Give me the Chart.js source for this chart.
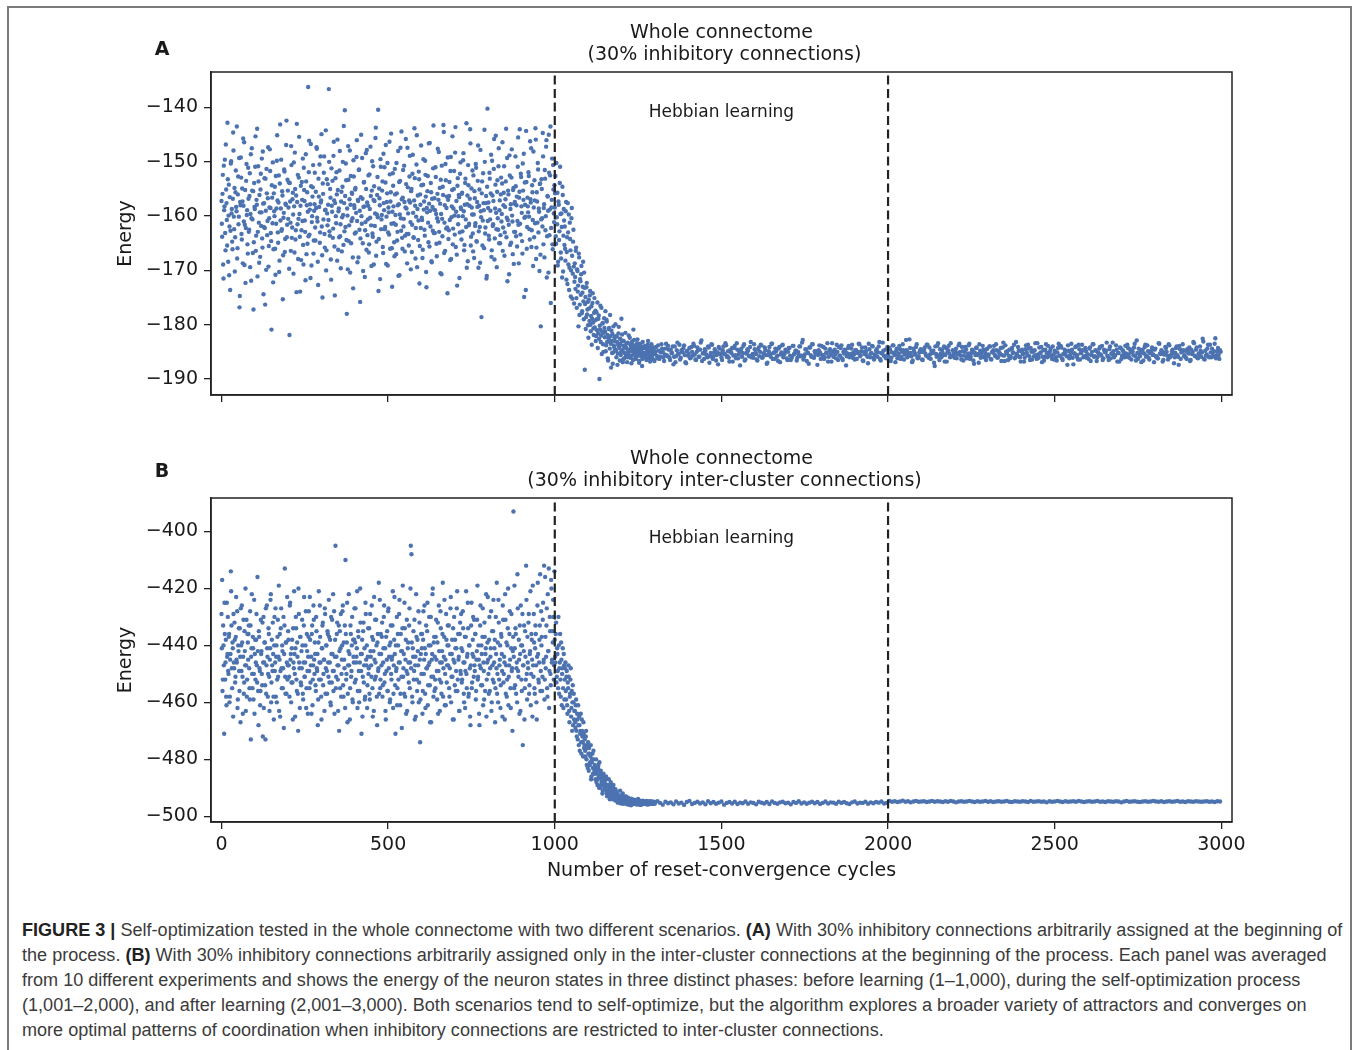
<!DOCTYPE html>
<html>
<head>
<meta charset="utf-8">
<title>Figure 3 – Self-optimization in the whole connectome</title>
<script src="https://cdn.jsdelivr.net/npm/chart.js@4.4.1/dist/chart.umd.min.js"></script>
<style>
  html, body { margin: 0; padding: 0; background: #fff; }
  body { width: 1357px; height: 1050px; position: relative; overflow: hidden; }
  .frame { position: absolute; left: 7px; top: 6px; width: 1341px; height: 1100px;
           border: 2px solid #7a7a7a; border-bottom: none; }
  .panel { position: absolute; left: 0; }
  #panelA { top: 0; }
  #panelB { top: 430px; }
  .caption { position: absolute; left: 22px; top: 918px; color: #3b3b3b;
             font-family: "Liberation Sans", Arial, sans-serif;
             font-size: 18px; line-height: 25px; white-space: nowrap;
             transform-origin: 0 0; }
  .caption b { color: #222; }
</style>
</head>
<body>
<div class="frame"></div>
<canvas id="panelA" class="panel" width="1357" height="420"></canvas>
<canvas id="panelB" class="panel" width="1357" height="456"></canvas>
<div class="caption" id="caption">
  <div id="captionFirst"><b>FIGURE 3 |</b> Self-optimization tested in the whole connectome with two different scenarios. <b>(A)</b> With 30% inhibitory connections arbitrarily assigned at the beginning of</div>
  <div>the process. <b>(B)</b> With 30% inhibitory connections arbitrarily assigned only in the inter-cluster connections at the beginning of the process. Each panel was averaged</div>
  <div>from 10 different experiments and shows the energy of the neuron states in three distinct phases: before learning (1–1,000), during the self-optimization process</div>
  <div>(1,001–2,000), and after learning (2,001–3,000). Both scenarios tend to self-optimize, but the algorithm explores a broader variety of attractors and converges on</div>
  <div>more optimal patterns of coordination when inhibitory connections are restricted to inter-cluster connections.</div>
</div>

<script>
/* ---------- DATA ---------- */
const xTicks = [0, 500, 1000, 1500, 2000, 2500, 3000];
const phaseBounds = [1000, 2000];
const phaseLabel = 'Hebbian learning';
const phaseLabelCycle = 1500;

const titleA = ['Whole connectome', ' (30% inhibitory connections)'];
const titleB = ['Whole connectome', ' (30% inhibitory inter-cluster connections)'];
const yTicksA = [-190, -180, -170, -160, -150, -140];
const yTicksB = [-500, -480, -460, -440, -420, -400];

// cycle sampling of each series: even and odd cycles kept in separate lists
const stepBefore = 2, stepLearning = 2, stepAfterA = 4, stepAfterB = 8;
const startBefore = 0, startLearning = 1000, startAfter = 1300;
const startBeforeOdd = 1, startLearningOdd = 1001, startAfterOddA = 1302;

// panel A energies, even cycles
const energyA_before = [
  -157.2,-163.8,-152.4,-171.5,-158.9,-149.6,-166.3,-155.1,-160.7,-142.8,-168.4,-154.2,-161.9,-173.6,-150.3,-159.5,-164.7,-156.8,-147.9,-162.4,
  -170.2,-155.6,-158.3,-143.5,-165.9,-152.7,-160.1,-176.8,-157.4,-149.2,-163.3,-154.9,-168.7,-158.1,-146.4,-161.6,-172.3,-153.5,-159.8,-165.2,
  -151.1,-162.9,-156.3,-169.4,-148.6,-160.4,-155.3,-166.8,-177.2,-153.9,-158.7,-145.3,-163.6,-157.9,-171.1,-150.8,-161.2,-156.1,-167.5,-152.2,
  -159.3,-164.1,-148.1,-174.4,-157.6,-162.2,-153.1,-169.9,-155.8,-160.9,-147.3,-165.5,-158.4,-151.7,-163.1,-180.9,-156.6,-150.1,-166.1,-159.1,
  -154.6,-170.8,-161.4,-149.8,-157.1,-164.9,-152.5,-168.2,-143.1,-158.6,-162.7,-155.4,-175.3,-160.3,-151.4,-166.6,-157.7,-146.9,-163.9,-153.3,
  -160.5,-153.8,-181.9,-157.3,-166.4,-150.6,-162.1,-155.7,-170.6,-158.2,-148.3,-164.3,-156.2,-143.0,-161.5,-167.9,-152.9,-159.6,-173.9,-154.4,
  -162.6,-157.0,-149.4,-168.9,-155.2,-160.8,-171.8,-153.6,-158.0,-165.1,-136.2,-151.9,-163.4,-157.8,-146.7,-169.1,-160.0,-154.7,-166.9,-159.0,
  -152.0,-164.5,-158.5,-147.6,-161.0,-172.7,-156.4,-150.5,-163.0,-157.5,-144.9,-167.2,-154.0,-160.6,-149.0,-165.8,-158.8,-170.0,-153.2,-161.7,
  -157.9,-136.6,-162.8,-155.0,-168.0,-151.2,-159.2,-164.0,-148.9,-157.1,-174.6,-153.0,-161.3,-156.0,-145.9,-166.2,-158.6,-151.6,-163.7,-169.6,
  -155.5,-160.2,-150.0,-165.3,-157.6,-140.5,-162.0,-153.4,-178.0,-159.9,-147.1,-164.6,-156.9,-170.4,-152.6,-160.9,-155.9,-167.6,-149.7,-158.0,
  -163.2,-154.8,-159.4,-146.0,-168.5,-157.2,-151.5,-162.5,-175.8,-156.5,-160.0,-149.3,-165.0,-158.3,-153.7,-171.2,-161.1,-155.0,-147.8,-163.5,
  -158.1,-166.7,-152.3,-160.3,-156.3,-169.2,-149.9,-163.8,-157.0,-154.5,-161.8,-145.6,-167.3,-159.7,-152.8,-140.4,-164.2,-156.7,-171.6,-150.9,
  -160.6,-155.3,-165.7,-148.5,-158.9,-162.4,-153.8,-168.8,-157.4,-150.2,-163.0,-159.3,-146.3,-166.0,-155.6,-161.4,-173.0,-152.1,-158.2,-164.8,
  -151.3,-159.8,-167.0,-155.8,-162.9,-148.0,-157.8,-170.9,-153.5,-160.4,-144.4,-164.0,-156.6,-161.9,-150.7,-166.5,-158.4,-154.1,-163.3,-147.4,
  -159.5,-165.4,-152.7,-157.5,-169.8,-155.0,-161.6,-148.7,-163.9,-157.1,-153.0,-167.8,-160.1,-145.1,-158.7,-164.4,-151.8,-172.4,-156.0,-162.2,
  -154.3,-160.7,-166.2,-149.5,-157.3,-163.6,-152.4,-170.3,-158.5,-155.4,-161.2,-146.6,-165.6,-159.0,-153.9,-168.3,-156.8,-162.7,-143.3,-158.8,
  -163.1,-151.0,-159.6,-167.4,-155.9,-161.0,-148.2,-164.9,-157.7,-153.3,-170.7,-160.5,-154.6,-143.2,-166.8,-158.0,-150.4,-162.3,-156.4,-174.2,
  -157.0,-162.6,-153.7,-168.1,-149.1,-160.2,-155.2,-165.2,-158.6,-151.7,-163.4,-143.6,-159.2,-167.1,-154.4,-161.5,-156.1,-171.4,-152.2,-158.4,
  -164.3,-155.7,-160.0,-148.4,-166.3,-157.9,-153.1,-162.0,-169.5,-156.2,-150.6,-161.7,-158.1,-144.0,-165.4,-154.9,-159.7,-163.2,-152.5,-167.7,
  -156.7,-161.3,-151.1,-164.7,-158.3,-147.0,-162.8,-155.1,-168.6,-159.1,-178.6,-153.6,-160.8,-157.6,-165.9,-150.0,-162.1,-156.3,-171.0,-140.2,
  -158.5,-163.6,-152.0,-160.6,-155.8,-167.5,-149.8,-161.8,-157.2,-145.8,-164.1,-154.2,-159.4,-169.4,-153.4,-162.5,-147.5,-158.9,-165.0,-156.0,
  -161.0,-154.0,-166.4,-158.0,-150.8,-163.0,-156.9,-143.9,-160.3,-172.0,-155.3,-161.6,-148.8,-165.3,-157.8,-152.9,-159.9,-167.0,-154.8,-162.9,
  -157.4,-149.0,-163.7,-156.4,-160.9,-145.5,-168.7,-155.5,-161.4,-152.2,-158.2,-164.6,-150.3,-157.0,-174.9,-153.8,-160.1,-144.3,-166.0,-156.6,
  -159.3,-152.6,-162.4,-146.2,-157.5,-165.7,-154.3,-160.7,-148.1,-163.9,-157.1,-143.8,-167.9,-155.6,-161.2,-151.4,-158.6,-170.1,-154.0,-180.3,
  -153.2,-160.4,-144.7,-165.2,-157.8,-151.5,-162.6,-147.2,-171.3,-156.3,-159.0,-145.0,-163.5,-152.5,-176.0,-158.4,-149.4,-166.1,-155.1,-161.1
];
const energyA_learning = [
  -158.4,-152.6,-165.1,-160.2,-155.7,-168.4,-157.9,-162.8,-150.9,-166.7,-159.5,-171.3,-156.1,-163.6,-160.8,
  -161.9,-168.2,-157.4,-166.6,-172.5,-163.0,-159.7,-169.5,-164.2,-174.8,-160.4,-167.3,-170.6,-162.5,-176.1,
  -168.7,-173.4,-165.8,-176.9,-170.1,-172.8,-166.9,-178.2,-171.6,-174.5,-169.2,-177.5,-173.0,-175.7,-170.4,
  -188.3,-174.9,-178.6,-172.3,-177.2,-180.1,-175.4,-179.3,-173.8,-181.2,-176.6,-178.9,-174.2,-180.7,-177.8,
  -180.5,-177.4,-182.1,-179.0,-175.9,-181.6,-178.3,-190.0,-180.9,-183.2,-176.9,-181.3,-179.7,-185.0,-178.8,
  -182.3,-177.5,-183.8,-179.4,-181.9,-186.6,-180.8,-182.9,-178.2,-183.5,-181.1,-185.2,-187.2,-180.3,-184.1,
  -183.0,-179.9,-184.8,-182.2,-187.4,-183.7,-180.4,-184.3,-182.6,-185.6,-178.9,-181.8,-186.9,-183.9,-186.2,
  -184.2,-181.5,-185.3,-183.4,-186.0,-184.7,-182.0,-185.8,-183.6,-184.4,-187.1,-183.1,-185.0,-180.9,-182.8,
  -185.4,-183.8,-186.3,-184.6,-182.7,-185.7,-184.1,-186.7,-183.5,-185.1,-184.8,-187.6,-183.2,-185.9,-184.3,
  -185.2,-183.9,-186.1,-184.5,-185.8,-183.0,-185.5,-184.2,-186.8,-184.9,-183.6,-185.6,-184.7,-186.4,-185.0
];
const energyA_after = [
  -185.3,-184.1,-186.2,-184.8,-185.9,-183.6,-185.0,-186.7,-184.4,-185.6,-183.9,-186.0,-184.6,-185.2,-187.3,-184.0,-185.8,-183.3,-185.4,-186.4,-184.7,-185.1,-183.8,-186.9,-184.9,
  -185.7,-184.3,-186.1,-185.0,-183.5,-185.5,-186.5,-184.2,-185.9,-184.6,-182.9,-185.3,-186.3,-184.8,-185.6,-184.0,-187.0,-185.2,-183.7,-185.8,-184.5,-186.6,-185.1,-184.1,-185.4,
  -186.0,-184.7,-185.3,-183.4,-185.9,-184.9,-186.8,-185.0,-184.3,-185.7,-183.9,-186.2,-184.6,-185.5,-187.5,-184.4,-185.2,-183.6,-186.4,-185.1,-184.8,-185.8,-183.2,-185.6,-186.1,
  -184.5,-185.4,-186.6,-184.2,-185.0,-183.8,-186.0,-185.3,-184.7,-187.2,-185.6,-184.1,-185.9,-183.5,-185.2,-186.3,-184.9,-185.7,-184.4,-186.9,-185.1,-183.7,-185.5,-184.6,-186.2,
  -185.0,-184.3,-186.5,-185.8,-183.9,-185.3,-184.8,-186.1,-185.5,-184.0,-185.7,-182.8,-185.9,-184.5,-186.7,-185.2,-184.2,-185.6,-183.6,-186.0,-184.9,-185.4,-187.4,-184.7,-185.1,
  -183.9,-185.6,-186.3,-184.4,-185.2,-186.8,-184.8,-185.5,-183.4,-185.9,-184.6,-186.2,-185.0,-184.1,-185.7,-183.8,-186.5,-185.3,-184.9,-185.8,-184.3,-186.0,-185.4,-183.7,-185.1,
  -186.4,-184.7,-185.2,-183.5,-185.8,-184.9,-186.6,-185.0,-184.2,-185.6,-187.1,-184.5,-185.3,-183.9,-186.1,-185.5,-184.8,-185.9,-184.0,-186.3,-185.2,-183.3,-185.7,-184.6,-186.0,
  -185.4,-184.3,-186.7,-185.1,-183.8,-185.6,-184.9,-186.2,-185.3,-184.5,-185.9,-183.6,-186.4,-185.0,-184.7,-185.7,-182.7,-185.2,-186.9,-184.4,-185.5,-184.1,-186.1,-185.8,-184.8,
  -185.0,-186.5,-184.6,-185.3,-183.7,-185.9,-184.2,-186.3,-185.1,-184.8,-187.6,-185.4,-183.9,-185.7,-184.5,-186.0,-185.2,-184.0,-185.6,-186.8,-184.7,-185.3,-183.4,-185.8,-184.9,
  -186.1,-184.4,-185.5,-183.8,-185.0,-186.4,-184.9,-185.7,-184.1,-186.2,-185.3,-183.5,-185.9,-184.6,-186.6,-185.1,-184.3,-185.6,-187.0,-184.8,-185.4,-183.9,-186.0,-185.2,-184.5,
  -185.8,-184.0,-186.3,-185.0,-184.7,-185.5,-183.6,-186.1,-184.9,-185.3,-186.7,-184.2,-185.7,-183.8,-185.2,-186.5,-184.6,-185.9,-184.3,-185.1,-186.2,-183.2,-185.6,-184.8,-186.0,
  -184.9,-185.4,-186.8,-184.5,-185.1,-183.7,-185.8,-184.3,-186.4,-185.0,-184.7,-185.6,-183.4,-186.1,-185.3,-184.1,-185.9,-186.6,-184.6,-185.2,-183.9,-185.7,-184.4,-186.3,-185.5,
  -184.8,-186.0,-185.1,-183.5,-185.7,-184.2,-186.5,-185.4,-184.9,-185.8,-183.8,-186.2,-185.0,-184.6,-187.3,-185.3,-184.0,-185.6,-183.7,-186.4,-185.2,-184.7,-185.9,-184.3,-186.1,
  -185.5,-184.4,-186.7,-185.0,-183.6,-185.8,-184.8,-186.0,-185.3,-184.1,-185.7,-186.5,-184.6,-185.1,-183.3,-185.9,-184.5,-186.2,-185.4,-184.9,-185.6,-183.8,-186.8,-185.2,-184.2,
  -186.3,-184.7,-185.4,-183.9,-185.9,-184.3,-186.1,-185.0,-184.8,-185.6,-183.5,-186.6,-185.2,-184.4,-185.8,-186.9,-184.6,-185.3,-183.7,-185.7,-184.9,-186.4,-185.1,-184.2,-185.5,
  -184.6,-185.9,-186.2,-183.4,-185.3,-184.7,-186.8,-185.5,-184.1,-185.0,-186.4,-183.8,-185.7,-184.9,-185.2,-186.0,-184.3,-185.6,-187.4,-184.5,-185.1,-183.6,-185.8,-184.8,-186.3,
  -185.0,-184.2,-186.5,-185.4,-183.2,-185.7,-184.6,-186.1,-185.3,-184.0,-185.9,-182.6,-186.3,-184.8,-185.5,-183.7,-186.0,-185.1,-184.4,-185.8,-183.5,-186.2,-184.9,-185.6,-184.7
];

// panel A energies, odd cycles
const energyA_beforeOdd = [
  -161.4,-155.9,-168.9,-150.7,-158.2,-163.1,-146.8,-157.6,-165.4,-153.2,-159.9,-170.9,-156.5,-162.7,-149.9,-158.7,-166.1,-144.6,-160.1,-154.8,
  -163.9,-151.6,-159.1,-167.8,-156.0,-161.5,-149.3,-174.7,-158.0,-152.9,-164.3,-157.3,-145.7,-161.0,-169.0,-155.2,-162.2,-150.4,-158.9,-166.9,
  -156.8,-162.5,-152.1,-159.6,-171.9,-147.5,-160.6,-155.4,-164.8,-158.3,-150.9,-166.4,-157.0,-143.9,-162.9,-153.6,-168.6,-159.3,-155.1,-161.8,
  -149.4,-165.8,-157.7,-162.0,-153.0,-176.3,-159.0,-151.3,-163.5,-156.7,-169.3,-160.4,-147.7,-158.5,-164.6,-154.3,-161.3,-172.2,-155.8,-160.0,
  -166.0,-152.6,-158.6,-145.1,-163.0,-157.5,-170.3,-154.0,-160.8,-149.6,-162.4,-156.2,-167.2,-159.4,-151.8,-164.2,-157.9,-142.4,-161.6,-155.3,
  -158.4,-169.7,-153.9,-161.2,-147.1,-164.0,-156.9,-159.7,-150.1,-166.7,-155.0,-162.6,-174.0,-157.4,-152.4,-160.5,-145.4,-163.8,-158.1,-168.1,
  -153.7,-160.9,-165.3,-151.1,-157.2,-162.9,-148.6,-167.0,-155.6,-159.2,-163.7,-146.1,-158.8,-171.4,-154.5,-161.1,-156.4,-150.6,-164.5,-157.8,
  -162.1,-155.5,-147.3,-160.3,-168.4,-153.1,-158.3,-164.9,-149.0,-157.1,-161.9,-175.0,-155.9,-152.0,-163.3,-158.9,-144.2,-166.3,-159.5,-154.1,
  -160.7,-150.0,-163.6,-156.6,-171.7,-158.1,-153.5,-162.3,-146.3,-165.6,-157.6,-160.0,-151.9,-168.2,-155.2,-159.1,-163.9,-148.0,-161.5,-157.3,
  -166.5,-154.6,-159.8,-143.4,-162.8,-156.3,-150.3,-164.4,-158.6,-169.8,-153.3,-161.7,-147.9,-157.9,-165.0,-155.7,-160.4,-173.3,-152.7,-158.5,
  -155.1,-163.0,-149.1,-160.9,-157.0,-167.6,-151.4,-159.0,-164.1,-145.0,-161.4,-156.8,-170.1,-153.8,-158.2,-162.6,-148.4,-166.2,-157.5,-160.6,
  -152.5,-165.2,-158.7,-147.2,-161.7,-155.3,-163.2,-150.8,-168.9,-157.2,-159.5,-143.7,-164.7,-156.1,-160.2,-173.8,-154.9,-158.0,-149.5,-162.4,
  -159.8,-153.6,-166.8,-157.6,-151.0,-162.0,-146.9,-160.1,-155.8,-169.1,-158.4,-163.4,-152.3,-157.3,-144.8,-165.9,-159.2,-154.4,-161.3,-167.4,
  -156.0,-161.6,-150.2,-164.5,-158.0,-171.0,-153.7,-159.7,-147.4,-162.7,-156.9,-166.0,-151.5,-160.5,-157.4,-163.6,-145.8,-158.6,-168.7,-154.7,
  -163.3,-157.1,-148.9,-161.1,-155.4,-166.6,-152.2,-159.4,-164.0,-143.8,-158.1,-162.2,-150.5,-169.4,-156.2,-160.8,-153.2,-165.5,-157.9,-147.0,
  -160.3,-167.7,-154.2,-158.8,-162.5,-149.8,-156.4,-173.1,-159.3,-152.6,-164.8,-157.7,-146.5,-161.9,-155.6,-168.5,-158.3,-151.2,-163.1,-156.7,
  -158.9,-152.8,-165.1,-160.4,-147.6,-157.0,-162.9,-154.8,-170.5,-159.6,-150.7,-163.7,-156.1,-144.5,-161.2,-166.4,-153.4,-158.5,-162.1,-149.2,
  -164.2,-156.3,-160.7,-151.7,-167.9,-158.2,-145.3,-162.3,-155.0,-159.9,-148.3,-165.7,-157.2,-172.8,-153.0,-160.0,-156.5,-163.0,-150.1,-158.7,
  -155.9,-162.8,-149.7,-159.1,-165.3,-153.9,-160.6,-142.9,-157.8,-168.3,-154.3,-161.4,-156.8,-146.6,-163.8,-158.4,-151.6,-166.5,-159.7,-155.4,
  -161.8,-150.4,-164.6,-157.4,-153.5,-169.5,-158.1,-162.0,-147.8,-160.2,-155.8,-165.4,-152.1,-158.9,-144.1,-163.2,-157.6,-171.5,-154.6,-160.9,
  -157.5,-164.3,-153.1,-159.0,-148.7,-166.3,-156.2,-161.5,-151.3,-168.0,-158.6,-145.2,-162.4,-155.5,-160.4,-150.8,-165.0,-157.1,-163.5,-152.9,
  -159.6,-146.4,-162.1,-155.7,-167.3,-158.3,-153.6,-163.9,-149.3,-160.7,-156.0,-170.7,-152.5,-158.7,-164.9,-147.7,-161.0,-155.2,-168.8,-157.7,
  -162.9,-154.5,-158.0,-165.6,-150.9,-161.6,-156.6,-144.0,-163.4,-152.8,-159.4,-166.9,-155.3,-148.5,-160.3,-157.9,-173.6,-153.7,-162.0,-158.2,
  -151.9,-160.1,-164.3,-156.9,-147.5,-162.6,-155.6,-169.2,-158.4,-153.4,-161.3,-145.9,-165.8,-157.3,-150.2,-163.0,-159.2,-154.1,-167.1,-160.6,
  -155.0,-161.9,-149.0,-158.5,-167.6,-153.1,-160.0,-146.0,-163.7,-156.4,-170.4,-152.0,-158.8,-143.5,-162.2,-157.0,-165.2,-150.6,-159.5,-154.3
];
const energyA_learningOdd = [
  -155.8,-163.7,-150.2,-161.5,-169.1,-157.3,-164.4,-153.9,-159.6,-167.8,-162.0,-154.6,-170.2,-158.7,-165.3,
  -166.0,-159.1,-171.7,-163.9,-157.6,-168.9,-173.6,-161.2,-166.3,-170.0,-158.5,-175.2,-164.7,-169.3,-172.1,
  -171.2,-166.4,-175.1,-169.8,-173.9,-180.3,-167.6,-176.3,-172.0,-170.7,-177.9,-174.1,-168.4,-179.0,-173.2,
  -176.2,-180.8,-173.1,-178.1,-175.8,-182.4,-177.0,-174.6,-180.0,-178.4,-183.7,-176.0,-179.6,-181.9,-175.1,
  -179.2,-183.0,-177.7,-181.0,-184.3,-178.9,-182.6,-180.2,-176.5,-182.0,-185.4,-179.8,-183.6,-181.5,-180.6,
  -181.3,-184.9,-179.1,-183.2,-186.2,-182.5,-180.6,-184.4,-182.1,-187.9,-183.0,-181.7,-185.1,-183.8,-182.4,
  -184.5,-182.1,-186.0,-183.2,-185.3,-181.6,-184.0,-186.6,-183.5,-185.0,-182.9,-184.7,-186.4,-183.0,-185.2,
  -183.8,-185.9,-184.3,-186.9,-183.3,-185.4,-184.9,-182.4,-186.1,-184.1,-185.7,-183.6,-186.5,-184.6,-185.1,
  -184.2,-186.0,-185.0,-183.4,-185.6,-184.7,-187.0,-185.3,-183.9,-185.8,-184.4,-186.3,-185.2,-184.0,-185.7,
  -185.6,-184.3,-186.5,-185.1,-183.7,-185.9,-184.8,-186.2,-185.3,-184.5,-186.0,-185.0,-184.2,-185.4,-186.7
];
const energyA_afterOdd = [
  -184.9,-185.7,-183.8,-186.3,-185.1,-184.4,-186.0,-185.5,-183.5,-185.8,-184.6,-186.5,-185.2,-184.0,-185.9,-186.9,-184.7,-185.3,-183.7,-186.1,-185.0,-184.3,-185.6,-187.1,-184.8,
  -185.4,-186.2,-184.1,-185.7,-183.9,-186.4,-185.0,-184.6,-185.9,-183.3,-186.7,-185.2,-184.5,-185.5,-186.0,-184.2,-185.8,-183.6,-186.3,-185.1,-184.9,-185.6,-187.3,-184.4,-185.3,
  -186.5,-184.0,-185.4,-183.8,-185.8,-186.1,-184.7,-185.2,-186.8,-184.3,-185.6,-183.4,-186.2,-185.0,-184.8,-185.9,-183.9,-186.6,-185.3,-184.5,-185.7,-184.1,-186.0,-185.4,-183.6,
  -185.2,-186.4,-184.6,-185.8,-183.7,-186.1,-185.3,-184.2,-185.6,-187.0,-184.9,-185.4,-183.5,-186.3,-185.1,-184.4,-185.9,-186.7,-184.1,-185.5,-183.8,-186.0,-185.2,-184.7,-186.5,
  -184.3,-185.7,-186.2,-183.9,-185.4,-184.8,-186.6,-185.0,-184.0,-185.8,-183.3,-186.4,-185.5,-184.6,-185.1,-187.2,-184.2,-185.9,-183.6,-186.1,-185.3,-184.9,-185.6,-183.8,-186.3,
  -185.6,-184.1,-186.0,-185.2,-183.4,-185.9,-184.5,-186.8,-185.1,-184.8,-185.4,-183.7,-186.5,-185.7,-184.3,-186.2,-185.0,-184.6,-187.5,-185.3,-183.9,-185.8,-184.4,-186.1,-185.5,
  -184.7,-186.3,-185.0,-183.6,-185.6,-184.2,-186.7,-185.4,-184.9,-185.9,-183.5,-186.0,-185.2,-184.0,-186.4,-185.7,-184.5,-185.1,-183.2,-186.6,-185.3,-184.8,-185.8,-186.2,-184.1,
  -185.9,-184.6,-186.1,-183.8,-185.3,-186.9,-184.4,-185.6,-183.9,-186.3,-185.0,-184.7,-185.5,-182.8,-186.0,-185.2,-184.3,-185.8,-186.6,-184.9,-185.4,-183.6,-186.2,-185.1,-184.5,
  -186.4,-185.0,-184.2,-185.7,-183.7,-186.1,-185.5,-184.8,-185.2,-187.0,-184.0,-185.9,-183.4,-186.5,-185.3,-184.6,-185.6,-186.8,-184.3,-185.1,-183.9,-186.0,-185.8,-184.7,-185.4,
  -184.9,-186.2,-185.3,-183.5,-185.7,-184.1,-186.6,-185.0,-184.5,-185.9,-183.8,-186.3,-185.2,-184.8,-187.2,-185.6,-184.2,-185.4,-183.6,-186.1,-185.0,-184.6,-185.8,-186.5,-184.4,
  -185.5,-184.0,-186.4,-185.1,-183.9,-185.8,-184.7,-186.0,-185.3,-184.3,-185.6,-183.3,-186.7,-185.0,-184.9,-185.7,-186.2,-184.5,-185.2,-183.7,-186.0,-185.4,-184.1,-185.9,-186.8,
  -184.6,-185.3,-186.1,-183.8,-185.6,-184.4,-186.5,-185.0,-184.8,-185.8,-183.4,-186.3,-185.5,-184.2,-185.1,-186.9,-184.7,-185.9,-183.6,-186.0,-185.2,-184.9,-185.7,-184.0,-186.4,
  -185.1,-186.6,-184.3,-185.7,-183.9,-186.2,-185.4,-184.6,-185.0,-187.4,-184.8,-185.6,-183.5,-186.1,-185.3,-184.1,-185.9,-186.4,-184.5,-185.2,-183.7,-186.0,-185.8,-184.9,-185.5,
  -186.3,-184.2,-185.6,-183.6,-185.9,-184.7,-186.7,-185.1,-184.4,-185.5,-183.9,-186.2,-185.0,-184.8,-185.7,-186.5,-184.0,-185.3,-183.3,-186.0,-185.6,-184.6,-185.2,-186.8,-184.3,
  -185.7,-184.9,-186.0,-185.3,-183.7,-185.5,-184.5,-186.4,-185.0,-184.2,-185.8,-182.9,-186.3,-185.4,-184.7,-185.1,-186.6,-184.1,-185.9,-183.8,-186.1,-185.2,-184.8,-185.6,-186.9,
  -184.4,-185.8,-186.2,-183.5,-185.4,-184.9,-186.5,-185.1,-184.3,-185.7,-183.6,-186.0,-185.5,-184.6,-187.1,-185.2,-184.0,-185.9,-183.9,-186.3,-185.0,-184.7,-185.6,-186.1,-184.5,
  -185.3,-186.7,-184.6,-185.0,-183.4,-185.8,-184.2,-186.2,-185.5,-184.8,-185.1,-183.1,-186.4,-185.7,-184.4,-185.9,-183.7,-186.0,-185.2,-184.9,-182.5,-185.6,-184.3,-186.3,-185.0
];

// panel B energies, even cycles
const energyB_before = [
  -429,-417,-452,-440,-471,-436,-446,-458,-425,-443,-449,-437,-460,-445,-414,-433,-455,-441,-429,-448,
  -438,-451,-423,-446,-462,-440,-434,-456,-444,-427,-449,-439,-464,-431,-453,-442,-420,-447,-458,-436,
  -445,-433,-455,-428,-473,-441,-450,-437,-459,-424,-443,-452,-438,-447,-416,-456,-435,-448,-461,-431,
  -442,-454,-472,-430,-446,-439,-473,-457,-426,-444,-450,-436,-463,-441,-422,-453,-447,-432,-458,-440,
  -449,-427,-444,-460,-437,-451,-419,-445,-465,-434,-448,-440,-455,-430,-443,-413,-457,-439,-446,-452,
  -435,-447,-458,-425,-443,-453,-438,-466,-446,-421,-450,-441,-434,-456,-444,-470,-429,-448,-437,-453,
  -442,-431,-457,-446,-423,-451,-440,-462,-436,-449,-444,-428,-455,-438,-447,-464,-433,-452,-426,-445,
  -439,-454,-430,-448,-443,-459,-421,-446,-437,-452,-466,-441,-432,-450,-445,-427,-457,-440,-449,-435,
  -446,-424,-453,-438,-461,-443,-431,-449,-456,-428,-444,-405,-451,-436,-447,-463,-433,-442,-455,-429,
  -450,-440,-426,-458,-445,-433,-410,-452,-439,-467,-447,-422,-443,-455,-436,-449,-430,-460,-444,-438,
  -453,-427,-446,-441,-462,-435,-449,-456,-420,-443,-471,-438,-451,-432,-447,-459,-425,-445,-440,-454,
  -434,-448,-457,-429,-444,-451,-437,-465,-442,-423,-452,-446,-431,-458,-439,-449,-418,-443,-455,-436,
  -447,-432,-454,-441,-426,-450,-463,-437,-445,-456,-428,-448,-440,-459,-433,-452,-444,-421,-457,-438,
  -443,-471,-449,-430,-455,-440,-446,-424,-461,-436,-451,-442,-419,-448,-457,-434,-445,-464,-431,-450,
  -439,-453,-427,-446,-405,-408,-458,-441,-435,-449,-466,-444,-422,-452,-438,-447,-460,-432,-474,-443,
  -450,-436,-456,-428,-445,-441,-462,-433,-448,-425,-454,-440,-446,-467,-430,-451,-443,-420,-458,-437,
  -444,-455,-431,-449,-439,-464,-426,-452,-446,-434,-457,-442,-418,-448,-437,-461,-445,-429,-453,-440,
  -447,-433,-458,-443,-423,-451,-438,-466,-445,-430,-454,-441,-449,-427,-456,-436,-444,-463,-432,-450,
  -441,-452,-428,-446,-460,-437,-449,-421,-455,-443,-434,-457,-440,-465,-447,-425,-453,-438,-444,-431,
  -449,-436,-456,-442,-419,-451,-445,-468,-433,-448,-440,-454,-427,-446,-459,-437,-443,-422,-452,-439,
  -445,-457,-430,-448,-441,-463,-435,-452,-424,-446,-438,-455,-443,-418,-450,-460,-432,-447,-440,-454,
  -437,-449,-426,-453,-444,-466,-431,-447,-458,-440,-420,-451,-436,-445,-462,-429,-448,-442,-393,-455,
  -441,-434,-457,-446,-415,-449,-438,-464,-443,-426,-452,-440,-475,-447,-433,-455,-444,-412,-450,-437,
  -448,-429,-454,-442,-461,-436,-445,-419,-451,-439,-457,-433,-447,-466,-426,-443,-453,-438,-415,-449,
  -440,-456,-431,-446,-412,-452,-437,-444,-427,-458,-442,-413,-449,-435,-454,-420,-445,-439,-430,-447
];
const energyB_learning = [
  -438,-446,-432,-451,-443,-455,-440,-448,-436,-458,-445,-450,-441,-462,-447,
  -452,-446,-459,-449,-464,-455,-451,-467,-457,-448,-462,-470,-454,-460,-466,
  -463,-469,-459,-472,-466,-461,-475,-468,-471,-464,-478,-470,-474,-467,-476,
  -473,-479,-470,-482,-476,-474,-484,-478,-481,-475,-486,-480,-483,-477,-485,
  -482,-487,-480,-485,-489,-483,-486,-481,-490,-484,-488,-486,-491,-485,-489,
  -488,-490,-486,-492,-489,-491,-487,-493,-490,-488,-492,-491,-494,-489,-492,
  -492,-490.5,-493.5,-491.5,-494.5,-492.5,-493,-495,-491,-494,-493.5,-495.5,-492,-494.5,-493,
  -494,-495,-493,-495.5,-494.5,-493.5,-495,-496,-494,-495,-493.8,-495.6,-494.6,-495.2,-494.2,
  -495,-494.4,-495.8,-494.8,-495.4,-493.9,-495.6,-494.7,-495.2,-496,-494.9,-495.3,-494.5,-495.7,-495.1,
  -494.8,-495.5,-495.0,-494.6,-495.9,-495.2,-494.9,-495.4,-495.7,-494.7,-495.3,-495.0,-495.6,-494.9,-495.3
];
const energyB_after = [
  -495.6,-494.7,-495.3,-495.9,-494.9,-495.4,-495.1,-495.8,-494.8,-495.5,
  -495.2,-496.0,-495.0,-494.6,-495.7,-495.3,-494.9,-495.5,-495.1,-495.8,
  -494.7,-495.4,-495.0,-495.6,-495.2,-494.8,-495.9,-495.3,-495.0,-495.5,
  -494.9,-495.7,-495.2,-495.4,-494.8,-495.6,-495.1,-495.3,-495.8,-494.9,
  -495.2,-495.5,-495.0,-495.7,-494.8,-495.3,-495.6,-495.1,-494.9,-495.4,
  -495.2,-495.8,-495.0,-495.3,-494.7,-495.5,-495.1,-495.6,-495.2,-494.9,
  -495.4,-495.0,-495.7,-495.3,-494.8,-495.5,-495.1,-495.2,-495.6,-494.9,
  -495.3,-495.0,-495.4,-495.7,-495.1,-494.8,-495.5,-495.2,-495.3,-494.9,
  -495.6,-495.1,-495.4,-495.0,-495.2,-494.8,-495.5,-495.3,
  -494.6,-494.9,-494.7,-495.0,-494.8,-494.5,-494.9,-494.7,-495.1,-494.8,
  -494.6,-494.9,-494.8,-494.7,-495.0,-494.8,-494.6,-494.9,-494.7,-494.8,
  -495.0,-494.7,-494.9,-494.6,-494.8,-495.1,-494.8,-494.7,-494.9,-494.8,
  -494.6,-494.8,-495.0,-494.7,-494.9,-494.8,-494.6,-494.9,-494.7,-495.0,
  -494.8,-494.7,-494.9,-494.8,-494.6,-494.9,-495.0,-494.7,-494.8,-494.9,
  -494.7,-494.8,-495.0,-494.6,-494.9,-494.8,-494.7,-494.9,-494.8,-495.1,
  -494.7,-494.9,-494.8,-494.6,-494.8,-495.0,-494.7,-494.9,-494.8,-494.7,
  -494.9,-494.6,-494.8,-495.0,-494.8,-494.7,-494.9,-494.8,-494.6,-494.9,
  -494.8,-495.0,-494.7,-494.8,-494.9,-494.7,-494.8,-495.1,-494.8,-494.6,
  -494.9,-494.8,-494.7,-494.9,-495.0,-494.8,-494.7,-494.9,-494.8,-494.6,
  -494.8,-494.9,-494.7,-495.0,-494.8,-494.7,-494.9,-494.8,-494.6,-494.9,
  -494.8,-495.0,-494.7,-494.8,-494.9,-494.7,-494.8,-494.9,-494.8,-494.7,
  -494.9,-494.8,-495.0,-494.7,-494.8
];

// panel B energies, odd cycles
const energyB_beforeOdd = [
  -441,-456,-433,-447,-425,-452,-438,-461,-444,-430,-450,-436,-458,-443,-421,-448,-439,-465,-446,-432,
  -453,-437,-445,-428,-459,-442,-449,-434,-467,-440,-426,-451,-444,-457,-435,-447,-463,-431,-452,-439,
  -436,-448,-459,-433,-444,-422,-455,-441,-450,-464,-438,-446,-429,-453,-442,-468,-437,-449,-456,-443,
  -450,-432,-446,-462,-439,-454,-427,-447,-441,-458,-434,-451,-445,-424,-460,-438,-449,-443,-466,-430,
  -446,-458,-440,-452,-431,-444,-463,-436,-449,-427,-455,-442,-448,-469,-433,-451,-439,-457,-423,-447,
  -438,-451,-426,-445,-460,-441,-453,-434,-448,-443,-465,-430,-452,-439,-457,-420,-446,-462,-437,-454,
  -448,-440,-459,-433,-451,-446,-428,-455,-442,-464,-437,-449,-423,-453,-444,-436,-461,-447,-431,-450,
  -443,-456,-435,-449,-468,-439,-452,-426,-446,-458,-441,-433,-454,-445,-463,-429,-448,-440,-457,-436,
  -451,-437,-446,-460,-430,-453,-443,-422,-449,-464,-438,-455,-444,-432,-452,-447,-470,-435,-441,-458,
  -445,-428,-454,-439,-448,-462,-436,-450,-425,-457,-442,-447,-466,-433,-451,-440,-459,-438,-446,-427,
  -439,-452,-444,-421,-456,-437,-460,-446,-432,-449,-443,-465,-435,-453,-441,-458,-429,-447,-462,-444,
  -450,-434,-459,-442,-447,-426,-455,-438,-463,-445,-431,-451,-440,-468,-436,-448,-457,-424,-452,-443,
  -437,-458,-446,-430,-453,-441,-466,-449,-435,-456,-427,-444,-460,-439,-450,-445,-433,-462,-447,-423,
  -454,-440,-448,-461,-436,-452,-429,-446,-457,-442,-469,-434,-451,-443,-425,-458,-438,-449,-463,-441,
  -446,-433,-455,-420,-448,-439,-460,-444,-452,-431,-447,-465,-437,-456,-442,-428,-453,-445,-459,-436,
  -441,-464,-438,-450,-426,-457,-443,-448,-435,-461,-447,-430,-454,-440,-467,-445,-422,-451,-439,-456,
  -452,-437,-445,-459,-432,-449,-442,-463,-428,-453,-446,-436,-458,-444,-424,-450,-461,-438,-447,-433,
  -440,-455,-448,-427,-460,-443,-451,-434,-466,-446,-438,-456,-441,-421,-452,-445,-463,-436,-449,-429,
  -453,-442,-434,-457,-446,-462,-437,-450,-444,-425,-458,-440,-448,-468,-433,-455,-443,-430,-451,-447,
  -436,-459,-445,-431,-452,-440,-464,-447,-426,-454,-443,-437,-461,-449,-432,-456,-441,-465,-446,-423,
  -450,-438,-456,-444,-428,-460,-447,-435,-453,-441,-467,-430,-448,-457,-439,-424,-452,-445,-462,-436,
  -443,-465,-431,-450,-446,-422,-457,-439,-452,-434,-461,-447,-428,-455,-441,-449,-470,-437,-444,-419,
  -454,-436,-448,-460,-427,-451,-445,-433,-463,-440,-456,-429,-447,-442,-466,-435,-452,-424,-459,-446,
  -432,-457,-443,-421,-450,-438,-465,-447,-429,-455,-441,-436,-460,-444,-418,-452,-446,-433,-456,-428,
  -437,-451,-425,-445,-459,-416,-448,-433,-455,-422,-442,-462,-430,-450,-417,-446,-435,-424,-452,-414
];
const energyB_learningOdd = [
  -444,-436,-453,-441,-449,-430,-457,-446,-452,-439,-461,-448,-455,-443,-459,
  -448,-456,-451,-461,-453,-447,-463,-458,-452,-465,-456,-460,-468,-457,-463,
  -467,-461,-470,-464,-473,-468,-465,-477,-470,-474,-466,-472,-479,-471,-475,
  -477,-472,-480,-475,-483,-478,-476,-482,-479,-487,-481,-478,-485,-480,-484,
  -485,-483,-488,-484,-487,-482,-490,-486,-485,-489,-487,-492,-488,-486,-490,
  -490,-487,-491,-493,-489,-492,-490,-494,-491,-489,-493,-492,-490,-494,-493,
  -493,-494.5,-491.8,-493.6,-495.2,-492.9,-494.1,-493.2,-495.4,-494,-492.6,-494.8,-493.7,-495.6,-494.3,
  -495.3,-494.6,-493.9,-495.8,-494.8,-495.1,-494.1,-495.6,-494.5,-496.1,-495.0,-494.3,-495.7,-494.9,-495.4,
  -495.3,-494.6,-495.7,-495.0,-494.8,-495.9,-495.2,-494.5,-495.5,-495.0,-495.8,-494.7,-495.4,-495.1,-495.6,
  -495.0,-495.6,-494.9,-495.4,-495.2,-495.7,-494.8,-495.3,-495.5,-495.1,-494.9,-495.6,-495.2,-495.4,-495.0
];

/* ---------- HELPERS ---------- */
const POINT_COLOR = '#4c72b0';
const INK = '#1a1a1a';
const FONT = '"DejaVu Sans", sans-serif';

function toPoints(start, step, values) {
  return values.map((v, i) => ({ x: start + i * step, y: v }));
}

function minusSign(v) {
  return String(v).replace('-', '\u2212');
}

// titles, panel letter, phase label and the box round the plot area
const panelDecor = {
  id: 'panelDecor',
  afterDraw(chart, args, opts) {
    const { ctx, chartArea: a } = chart;
    const x = chart.scales.x;
    ctx.save();
    ctx.strokeStyle = '#222';
    ctx.lineWidth = 1.5;
    ctx.strokeRect(a.left, a.top, a.right - a.left, a.bottom - a.top);

    ctx.fillStyle = INK;
    ctx.textAlign = 'center';
    ctx.textBaseline = 'middle';
    ctx.font = '19px ' + FONT;
    const cx = (a.left + a.right) / 2;
    opts.title.forEach((line, i) => ctx.fillText(line, cx, a.top - 39 + i * 22));

    ctx.font = '17px ' + FONT;
    ctx.fillText(phaseLabel, x.getPixelForValue(phaseLabelCycle), a.top + 40.5);

    ctx.font = 'bold 19px ' + FONT;
    ctx.fillText(opts.letter, 162, opts.letterY);
    ctx.restore();
  }
};

function makePanel(canvasId, cfg) {
  const datasets = [];
  phaseBounds.forEach(b => {
    datasets.push({
      data: [{ x: b, y: cfg.yMin }, { x: b, y: cfg.yMax }],
      showLine: true,
      borderColor: '#222',
      borderWidth: 2.2,
      borderDash: [9, 4.5],
      pointRadius: 0,
      order: 0
    });
  });
  cfg.segments.forEach(s => {
    datasets.push({
      data: toPoints(s.start, s.step, s.values),
      pointRadius: 2.2,
      pointBorderWidth: 0,
      pointBackgroundColor: POINT_COLOR,
      backgroundColor: POINT_COLOR,
      order: 1
    });
  });

  return new Chart(document.getElementById(canvasId), {
    type: 'scatter',
    data: { datasets },
    plugins: [panelDecor],
    options: {
      responsive: false,
      animation: false,
      events: [],
      layout: { padding: { top: cfg.padTop, left: 111, right: 125, bottom: 0 } },
      plugins: {
        legend: { display: false },
        tooltip: { enabled: false },
        panelDecor: { title: cfg.title, letter: cfg.letter, letterY: cfg.letterY }
      },
      scales: {
        x: {
          type: 'linear',
          min: -31.5,
          max: 3032,
          afterBuildTicks: s => { s.ticks = xTicks.map(v => ({ value: v })); },
          afterFit: s => { s.height = cfg.xHeight; },
          grid: { drawOnChartArea: false, drawTicks: true, tickLength: 7, color: '#222', lineWidth: 1.3 },
          border: { display: true, color: '#222', width: 1.5 },
          ticks: {
            display: cfg.showXLabels,
            padding: 5,
            color: INK,
            font: { family: FONT, size: 19 },
            maxRotation: 0,
            autoSkip: false,
            callback: v => String(v)
          },
          title: {
            display: cfg.showXLabels,
            text: 'Number of reset-convergence cycles',
            color: INK,
            font: { family: FONT, size: 19 }
          }
        },
        y: {
          type: 'linear',
          min: cfg.yMin,
          max: cfg.yMax,
          afterBuildTicks: s => { s.ticks = cfg.yTicks.map(v => ({ value: v })); },
          afterFit: s => { s.width = 100; },
          grid: { drawOnChartArea: false, drawTicks: true, tickLength: 7, color: '#222', lineWidth: 1.3 },
          border: { display: true, color: '#222', width: 1.5 },
          ticks: {
            padding: 6,
            color: INK,
            font: { family: FONT, size: 19 },
            callback: v => minusSign(v)
          },
          title: {
            display: true,
            text: 'Energy',
            color: INK,
            font: { family: FONT, size: 19 }
          }
        }
      }
    }
  });
}

/* ---------- DRAW ---------- */
makePanel('panelA', {
  title: titleA, letter: 'A', letterY: 50.5,
  padTop: 72, xHeight: 25, showXLabels: false,
  yMin: -192.95, yMax: -133.45, yTicks: yTicksA,
  segments: [
    { start: startBefore, step: stepBefore, values: energyA_before },
    { start: startBeforeOdd, step: stepBefore, values: energyA_beforeOdd },
    { start: startLearning, step: stepLearning, values: energyA_learning },
    { start: startLearningOdd, step: stepLearning, values: energyA_learningOdd },
    { start: startAfter, step: stepAfterA, values: energyA_after },
    { start: startAfterOddA, step: stepAfterA, values: energyA_afterOdd }
  ]
});

makePanel('panelB', {
  title: titleB, letter: 'B', letterY: 42,
  padTop: 68, xHeight: 64, showXLabels: true,
  yMin: -502.0, yMax: -388.25, yTicks: yTicksB,
  segments: [
    { start: startBefore, step: stepBefore, values: energyB_before },
    { start: startBeforeOdd, step: stepBefore, values: energyB_beforeOdd },
    { start: startLearning, step: stepLearning, values: energyB_learning },
    { start: startLearningOdd, step: stepLearning, values: energyB_learningOdd },
    { start: startAfter, step: stepAfterB, values: energyB_after }
  ]
});

// caption set in a condensed width: squeeze so the first line spans the text block
(function fitCaption() {
  const first = document.getElementById('captionFirst');
  const natural = first.scrollWidth;
  const k = 1320 / natural;
  document.getElementById('caption').style.transform = 'scaleX(' + k.toFixed(4) + ')';
})();
</script>
</body>
</html>
